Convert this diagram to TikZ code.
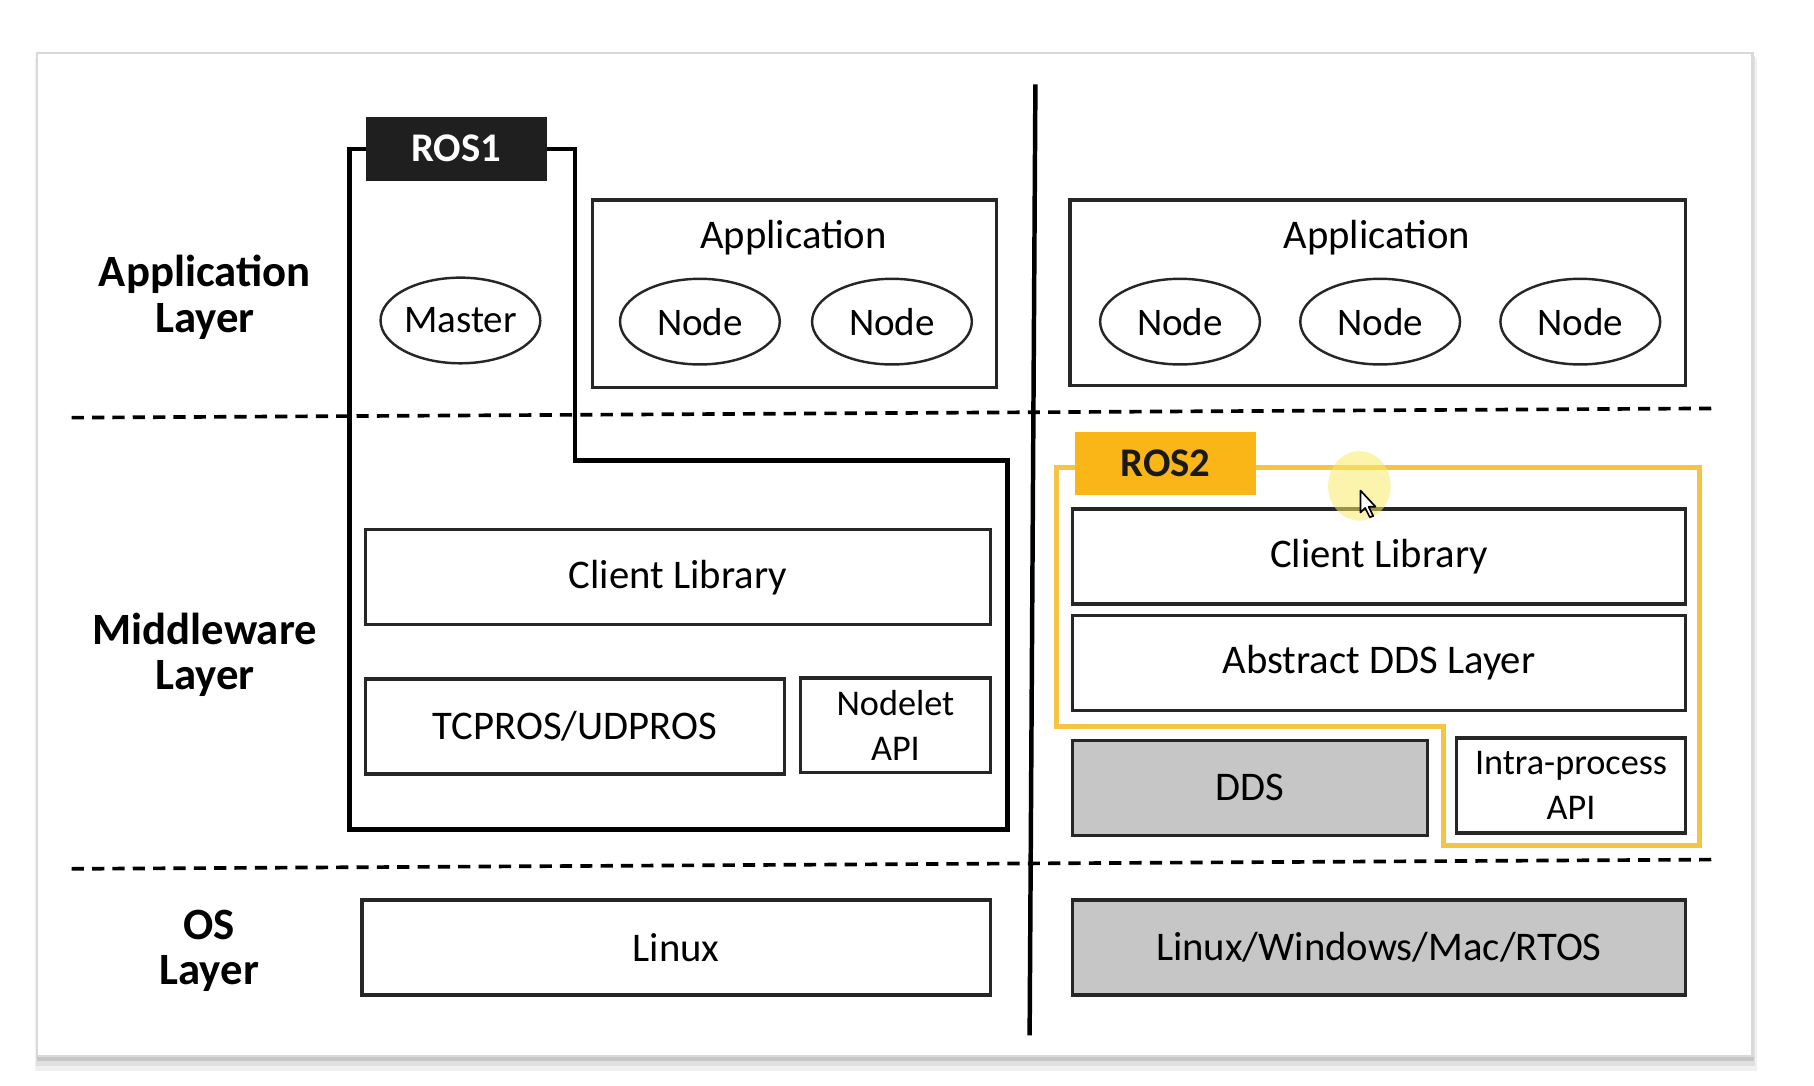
\documentclass[tikz,border=0pt]{standalone}
\usepackage{fontspec}
\setmainfont{Carlito}
\usetikzlibrary{shapes.geometric}
\definecolor{rosgold}{HTML}{F9B616}
\definecolor{rosline}{HTML}{F6C445}
\definecolor{boxgray}{HTML}{C6C6C6}
\definecolor{cursorhl}{HTML}{FBEA6A}
\begin{document}
\begin{tikzpicture}[x=0.01cm,y=-0.01cm,
  box/.style={draw=black!85, line width=0.8pt, inner sep=0pt, align=center, font=\fontsize{10}{11}\selectfont, minimum height=0.82cm},
  smallbox/.style={box, font=\fontsize{8.9}{10.9}\selectfont},
  graybox/.style={box, fill=boxgray},
  tab/.style={inner sep=0pt, minimum width=1.57cm, minimum height=0.55cm, font=\bfseries\fontsize{10}{11}\selectfont},
  nodeell/.style={ellipse, draw=black!85, line width=0.6pt, minimum width=1.38cm, minimum height=0.74cm, inner sep=0pt, font=\fontsize{9.6}{11}\selectfont},
  layerlbl/.style={align=center, font=\bfseries\fontsize{11}{11.2}\selectfont},
  sepline/.style={dash pattern=on 3pt off 2pt, line width=0.9pt},
  outline/.style={line width=1.1pt},
  ]
\useasboundingbox (0,0) rectangle (1568,938);
\fill[white] (0,0) rectangle (1568,938);
% card with shadow
\fill[black!6] (30,50) rectangle (1519,926);
\fill[black!12] (31,48) rectangle (1517,921);
\fill[black!22] (32,47) rectangle (1516,917);
\fill[white, draw=black!15, line width=0.6pt] (32,46) rectangle (1515,913);

% separators
\coordinate (dtop) at (895,73);
\coordinate (dbot) at (890,895);
\coordinate (s1l) at (62,361);
\coordinate (s1r) at (1482,353);
\coordinate (s2l) at (62,751);
\coordinate (s2r) at (1482,743);
\draw[sepline] (s1l) -- (s1r);
\draw[sepline] (s2l) -- (s2r);
\draw[line width=1.1pt] (dtop) -- (dbot);

% layer labels
\node[layerlbl] (lapp) at (177,257) {Application\\Layer};
\node[layerlbl] (lmid) at (177,566) {Middleware\\Layer};
\node[layerlbl] (los) at (181,822) {OS\\Layer};

% ROS1 outline
\draw[outline] (302,129) -- (497,129) -- (497,398) -- (871,398) -- (871,717) -- (302,717) -- cycle;
\node[tab, fill=black!88, text=white] (ros1) at (394.5,128.5) {ROS1};
\node[nodeell] (master) at (398,277) {Master};

% ROS1 application
\node[box, minimum width=3.49cm, minimum height=1.62cm] (app1) at (686.5,254) {};
\node[font=\fontsize{10}{11}\selectfont] (app1t) at (686,205) {Application};
\node[nodeell] (n11) at (605,278) {Node};
\node[nodeell] (n12) at (771,278) {Node};

\node[box, minimum width=5.40cm] (cl1) at (586,499) {Client Library};
\node[box, minimum width=3.62cm] (tcp) at (497,628) {TCPROS/UDPROS};
\node[smallbox, minimum width=1.64cm] (nodelet) at (774,627) {Nodelet\\API};
\node[box, minimum width=5.43cm] (linux) at (584.5,819) {Linux};

% ROS2 side
\node[box, minimum width=5.32cm, minimum height=1.60cm] (app2) at (1191,253) {};
\node[font=\fontsize{10}{11}\selectfont] (app2t) at (1190,205) {Application};
\node[nodeell] (n21) at (1020,278) {Node};
\node[nodeell] (n22) at (1193,278) {Node};
\node[nodeell] (n23) at (1366,278) {Node};

\draw[rosline, line width=1.3pt] (913,404) -- (1469,404) -- (1469,731) -- (1248,731) -- (1248,628) -- (913,628) -- cycle;
\node[tab, fill=rosgold, text=black!90] (ros2) at (1007.5,400.5) {ROS2};

\node[box, minimum width=5.30cm] (cl2) at (1192,481) {Client Library};
\node[box, minimum width=5.30cm] (adds) at (1192,573) {Abstract DDS Layer};
\node[graybox, minimum width=3.07cm] (dds) at (1080.5,681) {DDS};
\node[smallbox, minimum width=1.98cm] (intra) at (1358,679) {Intra-process\\API};
\node[graybox, minimum width=5.30cm] (os2) at (1192,819) {Linux/Windows/Mac/RTOS};

% cursor highlight
\fill[cursorhl, opacity=0.55] (1175,420) ellipse (27 and 30);
\draw[fill=white, line width=0.4pt, line join=round] (1176,424) -- (1176,443) -- (1180,439) -- (1184,447) -- (1187,446) -- (1183,438) -- (1189,438) -- cycle;
\end{tikzpicture}
\end{document}
